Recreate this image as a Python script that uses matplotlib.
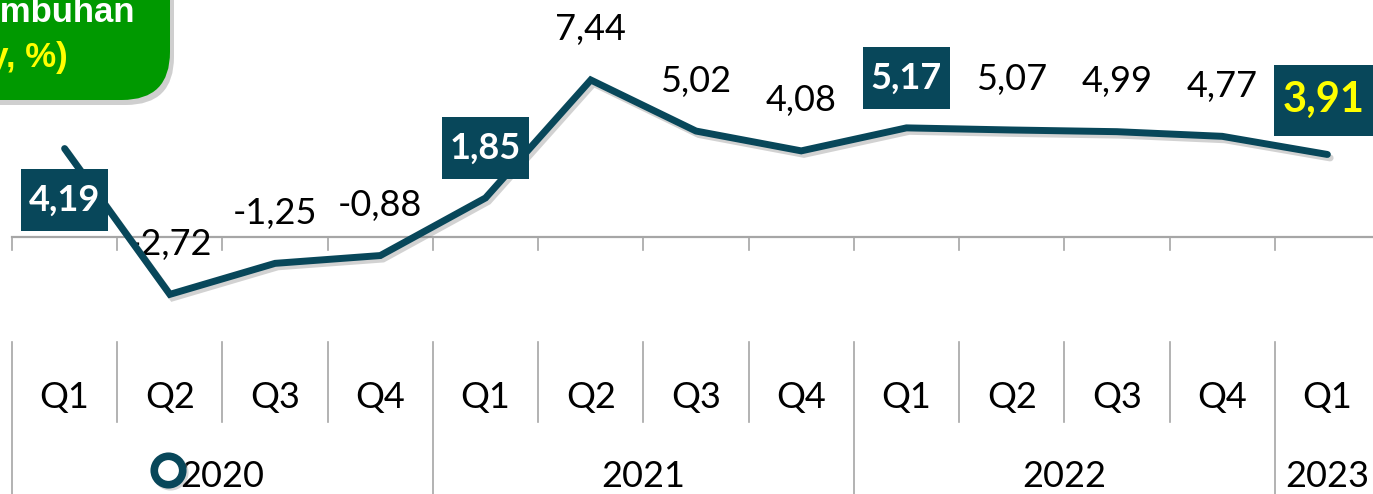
import numpy as np
import matplotlib
matplotlib.use('Agg')
import matplotlib.pyplot as plt
import matplotlib.patheffects as pe
from matplotlib.patches import FancyBboxPatch

plt.rcParams['font.family'] = ['Lato', 'DejaVu Sans']

# data pertumbuhan (yoy, %)
quarters = ['Q1', 'Q2', 'Q3', 'Q4', 'Q1', 'Q2', 'Q3', 'Q4', 'Q1', 'Q2', 'Q3', 'Q4', 'Q1']
years = ['2020', '2021', '2022', '2023']
year_len = [4, 4, 4, 1]
growth = [4.19, -2.72, -1.25, -0.88, 1.85, 7.44, 5.02, 4.08, 5.17, 5.07, 4.99, 4.77, 3.91]
boxed = [0, 4, 8]     # label dengan kotak
last_idx = 12         # label terakhir (kuning)

TEAL = '#08475A'
GRID = '#A6A6A6'

W, H = 1373, 494
fig = plt.figure(figsize=(W / 100, H / 100), dpi=100)
# axes dibuat lebih lebar dari gambar supaya kategori terakhir terpotong seperti aslinya
ax = fig.add_axes([12 / W, 0, 1368 / W, 1])
ax.set_xlim(-0.5, len(growth) - 0.5)
ax.set_ylim(-12.18, 11.23)
ax.axis('off')

x = np.arange(len(growth))

# garis nol dan tick
ax.plot([-0.5, len(growth) - 0.5], [0, 0], color=GRID, lw=1.6, zorder=1, clip_on=False)
for b in np.arange(len(growth) + 1) - 0.5:
    ax.plot([b, b], [0, -0.62], color=GRID, lw=1.2, zorder=1, clip_on=False)

# tabel kategori di bawah
year_edges = np.cumsum([0] + year_len) - 0.5
for b in np.arange(len(growth) + 1) - 0.5:
    if b in year_edges:
        ax.plot([b, b], [-4.98, -12.18], color=GRID, lw=1.2, clip_on=False)
    else:
        ax.plot([b, b], [-4.98, -8.77], color=GRID, lw=1.2, clip_on=False)
for i, q in enumerate(quarters):
    ax.text(i, -7.63, q, ha='center', va='center', fontsize=26, color='black')
for k, yr in enumerate(years):
    cx = (year_edges[k] + year_edges[k + 1]) / 2
    ax.text(cx, -11.37, yr, ha='center', va='center', fontsize=26, color='black')

# garis utama
ax.plot(x, growth, color=TEAL, lw=5, solid_capstyle='round', solid_joinstyle='miter', zorder=3,
        path_effects=[pe.SimpleLineShadow(offset=(2, -2.5), alpha=0.35, shadow_color='gray'), pe.Normal()])

# label data
for i, v in enumerate(growth):
    s = f'{v:.2f}'.replace('.', ',')
    if i == last_idx:
        ax.annotate(s, (i, v), xytext=(-3, 39), textcoords='offset points', ha='center', va='center',
                    fontsize=30, fontweight='bold', color='#FFFF00', zorder=5,
                    bbox=dict(boxstyle='square,pad=0.2', fc=TEAL, ec='none', mutation_aspect=2.0))
    elif i in boxed:
        dy = -37 if i == 0 else 36
        ax.annotate(s, (i, v), xytext=(0, dy), textcoords='offset points', ha='center', va='center',
                    fontsize=26, fontweight='bold', color='white', zorder=5,
                    bbox=dict(boxstyle='square,pad=0.22', fc=TEAL, ec='none', mutation_aspect=1.8))
    else:
        ax.annotate(s, (i, v), xytext=(0, 36), textcoords='offset points', ha='center', va='center',
                    fontsize=26, color='black', zorder=2)

# kotak judul hijau di kiri atas
shadow = FancyBboxPatch((-60 / W + 4 / W, 1 - 100 / H - 5 / H), 230 / W, 160 / H,
                        boxstyle='round,pad=0,rounding_size=0.035', transform=fig.transFigure,
                        fc='#777777', ec='none', alpha=0.35, mutation_aspect=W / H)
box = FancyBboxPatch((-60 / W, 1 - 100 / H), 230 / W, 160 / H,
                     boxstyle='round,pad=0,rounding_size=0.035', transform=fig.transFigure,
                     fc='#009900', ec='none', mutation_aspect=W / H)
fig.add_artist(shadow)
fig.add_artist(box)
fig.text(135 / W, 1 - 12 / H, 'Pertumbuhan', ha='right', va='center', fontsize=25,
         fontweight='bold', color='white', family='Liberation Sans')
fig.text(68 / W, 1 - 57 / H, '(yoy, %)', ha='right', va='center', fontsize=25,
         fontweight='bold', color='#FFFF00', family='Liberation Sans')

# penanda lingkaran di bawah
ax.scatter([1.0], [-11.15], s=420, facecolor='white', edgecolor='#999999', linewidth=5.5,
           alpha=0.4, clip_on=False, zorder=5)
ax.scatter([0.98], [-11.05], s=420, facecolor='white', edgecolor=TEAL, linewidth=5.5,
           clip_on=False, zorder=6)

fig.savefig('out.png', dpi=100)
